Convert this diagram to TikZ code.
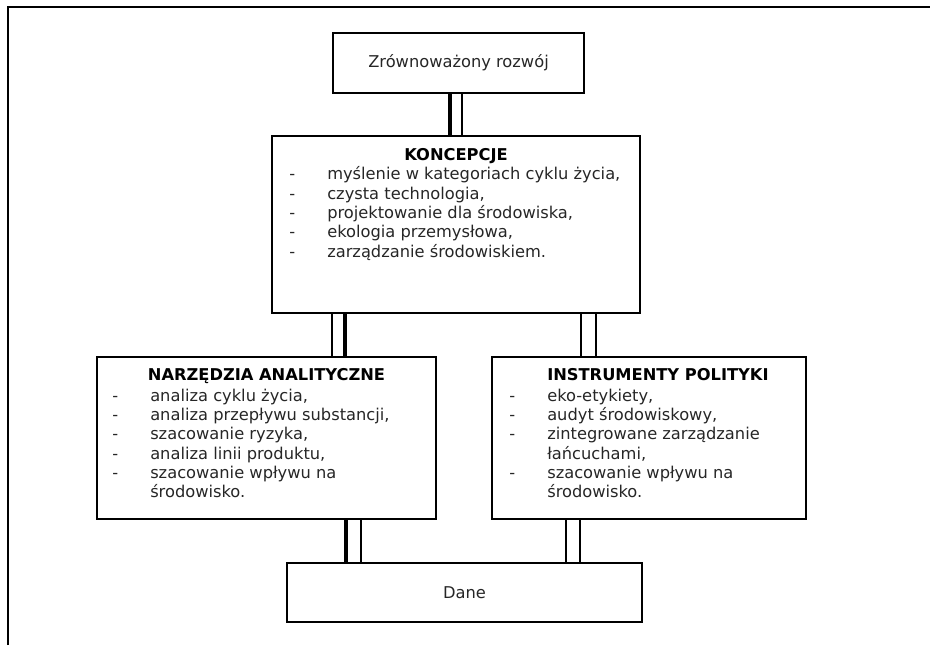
\documentclass[tikz,border=0pt]{standalone}
\usepackage{fontspec}
\setmainfont{DejaVu Sans}
\usepackage{array}
\newlength{\px}\setlength{\px}{0.75pt}

\begin{document}
\begin{tikzpicture}[x=0.75pt, y=-0.75pt,
        box/.style = {draw, line width=1.8pt, inner sep=0pt, font=\fontsize{12.2}{14.5}\selectfont, text=black!85},
        head/.style = {inner sep=0pt, anchor=base, font=\fontsize{12.2}{14.5}\selectfont\bfseries},
        list/.style = {inner sep=0pt, anchor=base west, font=\fontsize{12.2}{14.5}\selectfont, text=black!85},
        fat/.style = {line width=2.3pt},
        slim/.style = {line width=1.5pt}]
        \useasboundingbox (0,0) rectangle (930,645);

        % frame
        \draw[line width=1.6pt] (8,645) -- (8,7) -- (930,7);

        \node[box, minimum width=251\px, minimum height=60\px] (rozwoj) at (458.5,63) {Zrównoważony rozwój};
        \node[box, minimum width=368\px, minimum height=177\px] (koncepcje) at (456,224.5) {};
        \node[box, minimum width=339\px, minimum height=162\px] (narzedzia) at (266.5,438) {};
        \node[box, minimum width=314\px, minimum height=162\px] (instrumenty) at (649,438) {};
        \node[box, minimum width=355\px, minimum height=59\px] (dane) at (464.5,592.5) {Dane};

        \node[head] (konhead) at (456,161) {KONCEPCJE};
        \node[list] (konlist) at (289,180) {\begin{tabular}[t]{@{}p{38\px}@{}l@{}}
            - & myślenie w kategoriach cyklu życia,\\
            - & czysta technologia,\\
            - & projektowanie dla środowiska,\\
            - & ekologia przemysłowa,\\
            - & zarządzanie środowiskiem.
        \end{tabular}};

        \node[head] (narzhead) at (266.5,380) {NARZĘDZIA ANALITYCZNE};
        \node[list] (narzlist) at (112,401) {\begin{tabular}[t]{@{}p{38\px}@{}l@{}}
            - & analiza cyklu życia,\\
            - & analiza przepływu substancji,\\
            - & szacowanie ryzyka,\\
            - & analiza linii produktu,\\
            - & szacowanie wpływu na\\
              & środowisko.
        \end{tabular}};

        \node[head, anchor=base west] (insthead) at (547,380) {INSTRUMENTY POLITYKI};
        \node[list] (instlist) at (509,401) {\begin{tabular}[t]{@{}p{38\px}@{}l@{}}
            - & eko-etykiety,\\
            - & audyt środowiskowy,\\
            - & zintegrowane zarządzanie\\
              & łańcuchami,\\
            - & szacowanie wpływu na\\
              & środowisko.
        \end{tabular}};

        % double connectors
        \draw[fat] ([xshift=-8.5\px]rozwoj.south) -- ([xshift=-6\px]koncepcje.north);
        \draw[slim] ([xshift=3.5\px]rozwoj.south) -- ([xshift=6\px]koncepcje.north);

        \draw[slim] ([xshift=-124\px]koncepcje.south) -- ([xshift=65.5\px]narzedzia.north);
        \draw[fat] ([xshift=-111\px]koncepcje.south) -- ([xshift=78.5\px]narzedzia.north);

        \draw[slim] ([xshift=125\px]koncepcje.south) -- ([xshift=-68\px]instrumenty.north);
        \draw[slim] ([xshift=140\px]koncepcje.south) -- ([xshift=-53\px]instrumenty.north);

        \draw[fat] ([xshift=79.5\px]narzedzia.south) -- ([xshift=-118.5\px]dane.north);
        \draw[slim] ([xshift=94.5\px]narzedzia.south) -- ([xshift=-103.5\px]dane.north);

        \draw[slim] ([xshift=-83\px]instrumenty.south) -- ([xshift=101.5\px]dane.north);
        \draw[slim] ([xshift=-69\px]instrumenty.south) -- ([xshift=115.5\px]dane.north);

    \end{tikzpicture}
\end{document}
